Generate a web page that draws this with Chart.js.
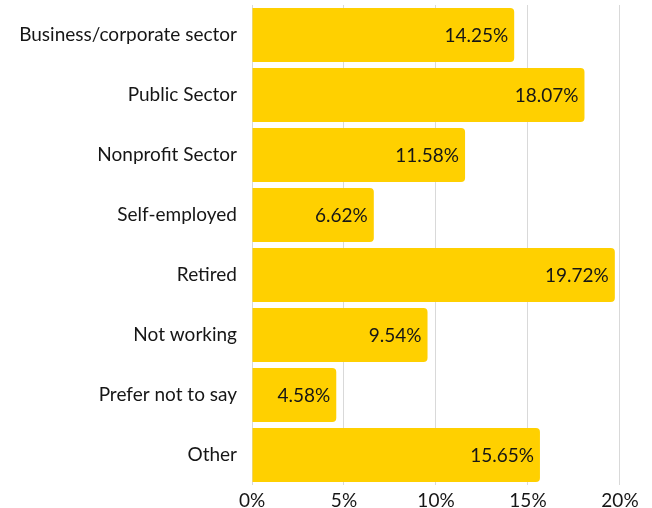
<!DOCTYPE html>
<html>
<head>
<meta charset="utf-8">
<script src="https://cdn.jsdelivr.net/npm/chart.js@4.4.0/dist/chart.umd.min.js"></script>
<style>
  html, body { margin: 0; padding: 0; background: #fff; }
  #wrap { width: 652px; height: 508px; }
</style>
</head>
<body>
<div id="wrap"><canvas id="chart"></canvas></div>
<script>
var categories = ["Business/corporate sector", "Public Sector", "Nonprofit Sector", "Self-employed",
                  "Retired", "Not working", "Prefer not to say", "Other"];
var shares = [14.25, 18.07, 11.58, 6.62, 19.72, 9.54, 4.58, 15.65];
var tickValues = [0, 5, 10, 15, 20];

var fontFamily = "Lato, 'Open Sans', sans-serif";
var textColor = "#161616";

// writes the percentage inside the right end of each bar
var barLabels = {
	id: 'barLabels',
	afterDatasetsDraw: function(chart) {
		var c = chart.ctx;
		var meta = chart.getDatasetMeta(0);
		c.save();
		c.font = "19px " + fontFamily;
		c.fillStyle = textColor;
		c.textAlign = "right";
		c.textBaseline = "middle";
		meta.data.forEach(function(bar, i) {
			c.fillText(shares[i].toFixed(2) + "%", bar.x - 6, bar.y + 1);
		});
		c.restore();
	}
};

var ctx = document.getElementById("chart");
var myChart = new Chart(ctx, {
	type: 'bar',
	data: {
		labels: categories,
		datasets: [{
			data: shares,
			backgroundColor: "#FFD000",
			borderRadius: 4,
			borderSkipped: 'start',
			barPercentage: 0.9,
			categoryPercentage: 1.0
		}]
	},
	options: {
		indexAxis: 'y',
		responsive: true,
		maintainAspectRatio: false,
		animation: false,
		layout: { padding: { top: 5, right: 0, left: 0, bottom: 0 } },
		plugins: {
			legend: { display: false },
			tooltip: { enabled: false }
		},
		scales: {
			x: {
				min: 0,
				max: 21.74,
				border: { display: false },
				grid: { color: "#d9d9d9", lineWidth: 1, drawTicks: false },
				afterBuildTicks: function(scale) {
					scale.ticks = tickValues.map(function(v) { return { value: v }; });
				},
				afterFit: function(scale) {
					scale.height = 23;
					scale.paddingLeft = 0;
					scale.paddingRight = 0;
				},
				ticks: {
					padding: 4,
					color: textColor,
					font: { family: fontFamily, size: 19 },
					callback: function(v) { return v + "%"; }
				}
			},
			y: {
				border: { display: false },
				grid: { display: false, drawTicks: false },
				afterFit: function(scale) {
					scale.width = 252;
					scale.paddingTop = 0;
					scale.paddingBottom = 0;
				},
				ticks: {
					padding: 15,
					color: textColor,
					font: { family: fontFamily, size: 19 }
				}
			}
		}
	},
	plugins: [barLabels]
});
</script>
</body>
</html>
